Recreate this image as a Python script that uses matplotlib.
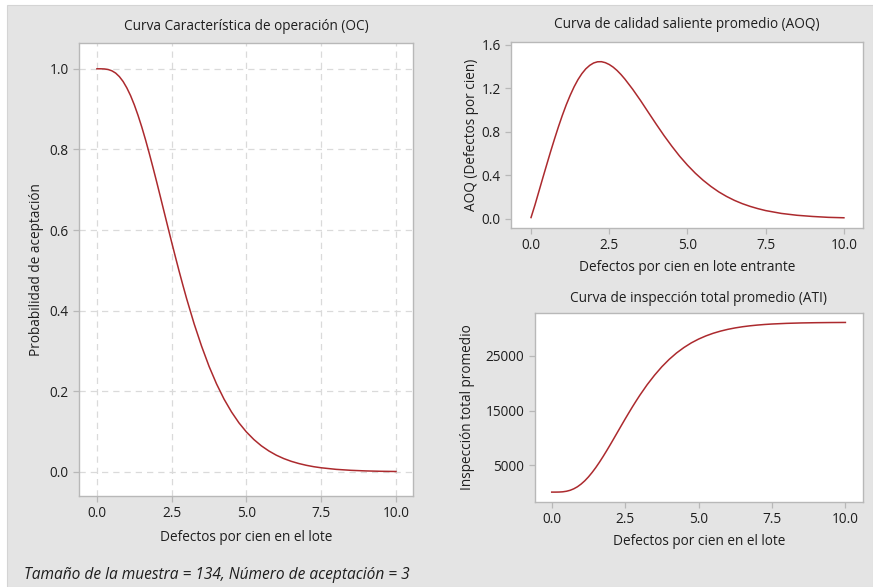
import numpy as np
import matplotlib
matplotlib.use('Agg')
from matplotlib import pyplot as plt
from matplotlib.patches import Rectangle

# Defectos por cien (eje x comun)
defectos = [0.0, 0.125, 0.25, 0.375, 0.5, 0.625, 0.75, 0.875, 1.0, 1.125,
            1.25, 1.375, 1.5, 1.625, 1.75, 1.875, 2.0, 2.125, 2.25, 2.375,
            2.5, 2.625, 2.75, 2.875, 3.0, 3.25, 3.5, 3.75, 4.0, 4.25, 4.5,
            4.75, 5.0, 5.25, 5.5, 5.75, 6.0, 6.25, 6.5, 6.75, 7.0, 7.25, 7.5,
            8.0, 8.5, 9.0, 9.5, 10.0]

# Probabilidad de aceptacion (curva OC)
prob_acept = [1.0, 1.0, 0.9996, 0.9982, 0.9950, 0.9894, 0.9806, 0.9685,
              0.9526, 0.9334, 0.9105, 0.8843, 0.8554, 0.8238, 0.7901, 0.7549,
              0.7186, 0.6814, 0.6439, 0.6065, 0.5693, 0.5330, 0.4973, 0.4629,
              0.4295, 0.3673, 0.3116, 0.2616, 0.2181, 0.1805, 0.1486, 0.1214,
              0.0988, 0.0800, 0.0644, 0.0517, 0.0412, 0.0328, 0.0260, 0.0206,
              0.0162, 0.0127, 0.0100, 0.0061, 0.0037, 0.0022, 0.0013, 0.0008]

# Calidad saliente promedio (AOQ)
aoq = [0.01, 0.125, 0.249, 0.373, 0.495, 0.616, 0.732, 0.844, 0.949, 1.046,
       1.133, 1.211, 1.278, 1.333, 1.377, 1.409, 1.431, 1.442, 1.443, 1.434,
       1.417, 1.393, 1.362, 1.325, 1.283, 1.189, 1.086, 0.977, 0.869, 0.764,
       0.666, 0.574, 0.492, 0.418, 0.353, 0.296, 0.246, 0.204, 0.168, 0.138,
       0.113, 0.092, 0.074, 0.048, 0.031, 0.020, 0.012, 0.008]

# Inspeccion total promedio (ATI)
ati = [134, 135, 146, 189, 289, 463, 735, 1109, 1602, 2196, 2905, 3717, 4612,
       5590, 6634, 7724, 8848, 10000, 11161, 12319, 13471, 14595, 15701,
       16766, 17800, 19727, 21451, 22999, 24346, 25511, 26498, 27341, 28041,
       28623, 29106, 29499, 29824, 30084, 30295, 30463, 30598, 30706, 30792,
       30912, 30987, 31032, 31060, 31076]

oc_yticks = [0.0, 0.2, 0.4, 0.6, 0.8, 1.0]
aoq_yticks = [0.0, 0.4, 0.8, 1.2, 1.6]
ati_yticks = [5000, 15000, 25000]
xticks = [0.0, 2.5, 5.0, 7.5, 10.0]

nota = 'Tamaño de la muestra = 134, Número de aceptación = 3'

plt.rcParams['font.family'] = ['Open Sans', 'DejaVu Sans']

W, H = 873, 587
fig = plt.figure(figsize=(W / 100, H / 100), dpi=100, facecolor='white')
fig.patches.append(Rectangle((7 / W, 0), 1 - 7 / W, 1 - 5 / H,
                             transform=fig.transFigure, facecolor='#e4e4e4',
                             edgecolor='#d4d4d4', lw=0.8, zorder=-10))

color_linea = '#ac2a2e'
color_borde = '#b8b8b8'
color_texto = '#1e1e1e'
tam = 9.8


def ejes(l, t, r, b):
    # pixeles -> fraccion de figura
    return fig.add_axes([l / W, 1 - b / H, (r - l) / W, (b - t) / H])


def estilo(ax):
    ax.set_facecolor('white')
    for s in ax.spines.values():
        s.set_color(color_borde)
        s.set_linewidth(1.0)
    ax.tick_params(colors=color_borde, labelcolor=color_texto,
                   labelsize=9.8, length=4, width=0.9, direction='out')


ax1 = ejes(79, 43, 413, 496)
ax2 = ejes(511, 42, 863, 228)
ax3 = ejes(535, 313, 863, 502)

# Curva OC
ax1.plot(defectos, prob_acept, color=color_linea, lw=1.1)
ax1.set_xlim(-0.6, 10.57)
ax1.set_ylim(-0.06, 1.064)
ax1.set_xticks(xticks)
ax1.set_yticks(oc_yticks)
ax1.grid(True, color='#dadada', ls=(0, (5, 4)), lw=0.9)
ax1.set_axisbelow(True)
ax1.set_title('Curva Característica de operación (OC)', fontsize=tam,
              color=color_texto, pad=9)
ax1.set_xlabel('Defectos por cien en el lote', fontsize=tam, color=color_texto,
               labelpad=6)
ax1.set_ylabel('Probabilidad de aceptación', fontsize=tam, color=color_texto,
               labelpad=4)
estilo(ax1)

# Curva AOQ
ax2.plot(defectos, aoq, color=color_linea, lw=1.1)
ax2.set_xlim(-0.64, 10.61)
ax2.set_ylim(-0.086, 1.624)
ax2.set_xticks(xticks)
ax2.set_yticks(aoq_yticks)
ax2.set_title('Curva de calidad saliente promedio (AOQ)', fontsize=tam,
              color=color_texto, pad=10)
ax2.set_xlabel('Defectos por cien en lote entrante', fontsize=tam,
               color=color_texto, labelpad=5)
ax2.set_ylabel('AOQ (Defectos por cien)', fontsize=tam, color=color_texto,
               labelpad=2)
estilo(ax2)

# Curva ATI
ax3.plot(defectos, ati, color=color_linea, lw=1.1)
ax3.set_xlim(-0.57, 10.6)
ax3.set_ylim(-1670, 32800)
ax3.set_xticks(xticks)
ax3.set_yticks(ati_yticks)
ax3.set_title('Curva de inspección total promedio (ATI)', fontsize=tam,
              color=color_texto, pad=8)
ax3.set_xlabel('Defectos por cien en el lote', fontsize=tam,
               color=color_texto, labelpad=5)
ax3.set_ylabel('Inspección total promedio', fontsize=tam, color=color_texto,
               labelpad=8)
estilo(ax3)

fig.text(24 / W, 1 - 575 / H, nota, fontsize=11.2, style='italic',
         color=color_texto, va='center', ha='left')

fig.savefig('out.png', dpi=100, facecolor=fig.get_facecolor())
